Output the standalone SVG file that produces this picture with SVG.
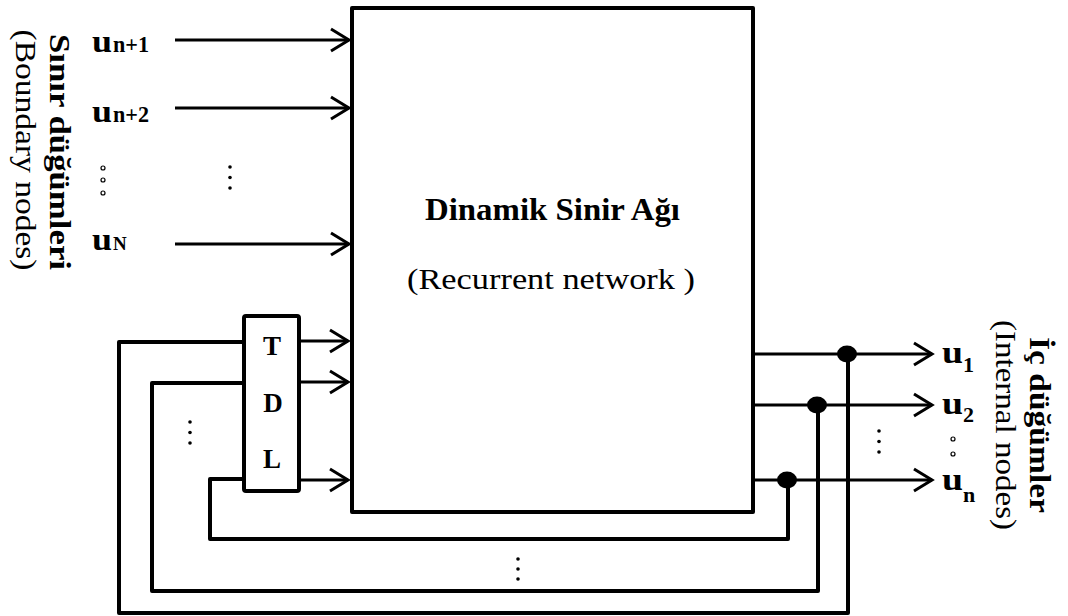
<svg xmlns="http://www.w3.org/2000/svg" width="1068" height="616" viewBox="0 0 1068 616">
<style>
.ln{stroke:#000;fill:none;stroke-linejoin:round;stroke-linecap:butt}
.w3{stroke-width:3}
.w4{stroke-width:4}
.b{font-family:"Liberation Serif",serif;font-weight:bold;fill:#000}
.r{font-family:"Liberation Serif",serif;fill:#000}
.dot{fill:#000}
.ring{fill:none;stroke:#000;stroke-width:1.2}
</style>
<defs>
<marker id="chev" viewBox="-22 -14 26 28" markerWidth="26" markerHeight="28" refX="0" refY="0" markerUnits="userSpaceOnUse" orient="auto">
<path d="M -18 -11 L 0 0 L -18 11" fill="none" stroke="#000" stroke-width="3" stroke-linejoin="miter"/>
</marker>
</defs>
<rect width="1068" height="616" fill="#fff"/>

<g id="network">
<rect x="352" y="8" width="401" height="504" class="ln w4"/>
<text class="b" x="552.5" y="220" font-size="31" text-anchor="middle" textLength="255" lengthAdjust="spacingAndGlyphs">Dinamik Sinir Ağı</text>
<text class="r" x="551" y="289" font-size="30" text-anchor="middle" textLength="288" lengthAdjust="spacingAndGlyphs">(Recurrent network )</text>
</g>

<g id="tdl">
<rect x="244" y="316" width="55" height="175" rx="2" class="ln w4"/>
<text class="b" x="272" y="355" font-size="27" text-anchor="middle">T</text>
<text class="b" x="273" y="412" font-size="27" text-anchor="middle">D</text>
<text class="b" x="272" y="468" font-size="27" text-anchor="middle">L</text>
</g>

<g id="boundary-label">
<text class="b" transform="translate(50,152) rotate(90)" font-size="30" text-anchor="middle" textLength="236" lengthAdjust="spacingAndGlyphs">Sınır düğümleri</text>
<text class="r" transform="translate(16,150) rotate(90)" font-size="29" text-anchor="middle" textLength="241" lengthAdjust="spacingAndGlyphs">(Boundary nodes)</text>
</g>

<g id="internal-label">
<text class="b" transform="translate(1030,425) rotate(90)" font-size="30" text-anchor="middle" textLength="176" lengthAdjust="spacingAndGlyphs">İç düğümler</text>
<text class="r" transform="translate(996,425) rotate(90)" font-size="29" text-anchor="middle" textLength="210" lengthAdjust="spacingAndGlyphs">(Internal nodes)</text>
</g>

<g id="inputs">
<text class="b" x="92" y="52" font-size="32" textLength="20" lengthAdjust="spacingAndGlyphs">u</text><text class="b" x="113" y="52" font-size="23" textLength="36" lengthAdjust="spacingAndGlyphs">n+1</text>
<text class="b" x="92" y="122" font-size="32" textLength="20" lengthAdjust="spacingAndGlyphs">u</text><text class="b" x="113" y="122" font-size="23" textLength="36" lengthAdjust="spacingAndGlyphs">n+2</text>
<text class="b" x="92" y="250" font-size="32" textLength="20" lengthAdjust="spacingAndGlyphs">u</text><text class="b" x="113" y="250" font-size="19">N</text>
<circle class="ring" cx="103" cy="168" r="2"/>
<circle class="ring" cx="103" cy="180" r="2"/>
<circle class="ring" cx="103" cy="193" r="2"/>
</g>

<g id="outputs">
<text class="b" x="942" y="363" font-size="32" textLength="21" lengthAdjust="spacingAndGlyphs">u</text><text class="b" x="963" y="372" font-size="22">1</text>
<text class="b" x="942" y="414" font-size="32" textLength="21" lengthAdjust="spacingAndGlyphs">u</text><text class="b" x="963" y="422" font-size="22">2</text>
<text class="b" x="942" y="490" font-size="32" textLength="21" lengthAdjust="spacingAndGlyphs">u</text><text class="b" x="963" y="502" font-size="22">n</text>
<circle class="ring" cx="953" cy="439" r="2"/>
<circle class="ring" cx="953" cy="454" r="2"/>
</g>

<g id="connectors">
<line x1="175" y1="40" x2="349" y2="40" class="ln w3" marker-end="url(#chev)"/>
<line x1="175" y1="108" x2="349" y2="108" class="ln w3" marker-end="url(#chev)"/>
<line x1="175" y1="244" x2="349" y2="244" class="ln w3" marker-end="url(#chev)"/>
<line x1="301" y1="341" x2="348" y2="341" class="ln w3" marker-end="url(#chev)"/>
<line x1="301" y1="382" x2="348" y2="382" class="ln w3" marker-end="url(#chev)"/>
<line x1="301" y1="480" x2="348" y2="480" class="ln w3" marker-end="url(#chev)"/>
<line x1="755" y1="354" x2="932" y2="354" class="ln w3" marker-end="url(#chev)"/>
<line x1="755" y1="405" x2="932" y2="405" class="ln w3" marker-end="url(#chev)"/>
<line x1="755" y1="480" x2="932" y2="480" class="ln w3" marker-end="url(#chev)"/>
<path d="M 242 342 H 119 V 613 H 848 V 354" class="ln w4"/>
<path d="M 242 383 H 152 V 591 H 818 V 405" class="ln w4"/>
<path d="M 242 479 H 210 V 539 H 788 V 480" class="ln w4"/>
<ellipse class="dot" cx="847" cy="354" rx="10" ry="8.5"/>
<ellipse class="dot" cx="817" cy="405" rx="10" ry="8.5"/>
<ellipse class="dot" cx="787" cy="480" rx="10" ry="8.5"/>
</g>

<g id="ellipses">
<circle class="dot" cx="230" cy="167" r="1.8"/><circle class="dot" cx="230" cy="177.5" r="1.8"/><circle class="dot" cx="230" cy="188" r="1.8"/>
<circle class="dot" cx="190" cy="422" r="1.8"/><circle class="dot" cx="190" cy="432.5" r="1.8"/><circle class="dot" cx="190" cy="443" r="1.8"/>
<circle class="dot" cx="879" cy="431" r="1.8"/><circle class="dot" cx="879" cy="441.5" r="1.8"/><circle class="dot" cx="879" cy="452" r="1.8"/>
<circle class="dot" cx="518" cy="559" r="1.8"/><circle class="dot" cx="518" cy="569" r="1.8"/><circle class="dot" cx="518" cy="579" r="1.8"/>
</g>
</svg>
